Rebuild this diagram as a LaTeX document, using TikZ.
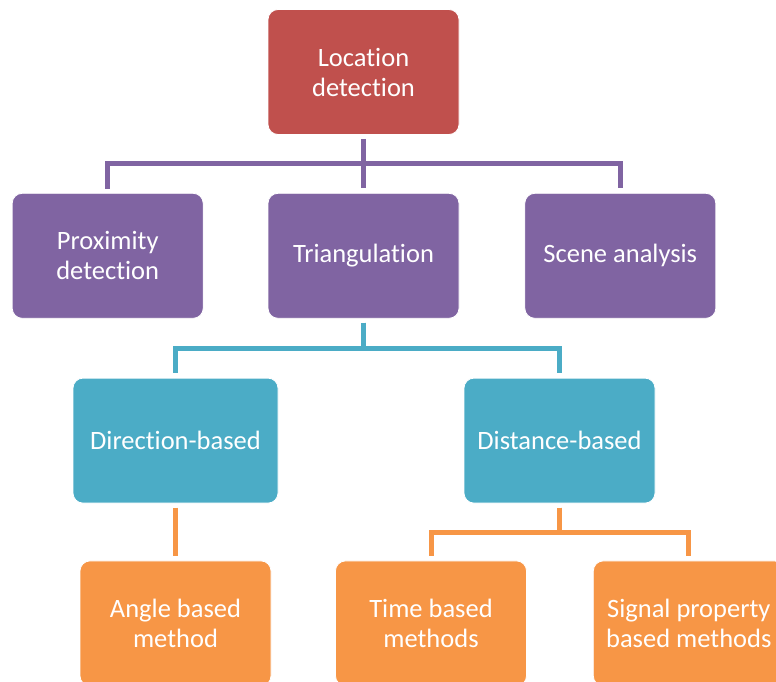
\documentclass[tikz,border=0pt]{standalone}
\usepackage{fontspec}
\setmainfont{Carlito}[Ligatures=NoCommon]
\usetikzlibrary{positioning}
\definecolor{locred}{HTML}{C0504D}
\definecolor{catpurple}{HTML}{8064A2}
\definecolor{apteal}{HTML}{4BACC6}
\definecolor{metorange}{HTML}{F79646}
\tikzstyle{box} = [rectangle, rounded corners=10pt, minimum width=191pt, minimum height=125pt, text centered, align=center, draw=white, line width=0.8pt, text=white, font=\fontsize{26.5}{30}\selectfont]
\tikzstyle{topic} = [box, fill=locred]
\tikzstyle{category} = [box, fill=catpurple]
\tikzstyle{approach} = [box, fill=apteal]
\tikzstyle{method} = [box, fill=metorange]
\tikzstyle{edge} = [line width=5pt, shorten <=4pt, shorten >=5pt]

\begin{document}
\begin{tikzpicture}[node distance=58pt]
\useasboundingbox (0,0) rectangle (776pt,-682pt);

\node (0) [topic] at (363.5pt,-72pt) {Location\\detection};
\node (1) [category, below=of 0] {Triangulation};
\node (2) [category, left=64pt of 1] {Proximity\\detection};
\node (3) [category, right=65pt of 1] {Scene analysis};
\node (4) [approach, minimum width=205pt, below=59pt of 1, xshift=-188pt] {Direction-based};
\node (5) [approach, below=59pt of 1, xshift=196pt] {Distance-based};
\node (6) [method, below=57pt of 4] {Angle based\\method};
\node (7) [method, below=57pt of 5, xshift=-128.5pt] {Time based\\methods};
\node (8) [method, right=66pt of 7] {Signal property\\based methods};

\draw [edge, catpurple] (0) -- (1);
\draw [edge, catpurple] (2.north) -- ++(0,29pt) -| (3.north);
\draw [edge, apteal] (1.south) -- ++(0,-29.5pt) -| (4.north);
\draw [edge, apteal] (1.south) -- ++(0,-29.5pt) -| (5.north);
\draw [edge, metorange] (4) -- (6);
\draw [edge, metorange] (5.south) -- ++(0,-28.5pt) -| (7.north);
\draw [edge, metorange] (5.south) -- ++(0,-28.5pt) -| (8.north);

\end{tikzpicture}
\end{document}
